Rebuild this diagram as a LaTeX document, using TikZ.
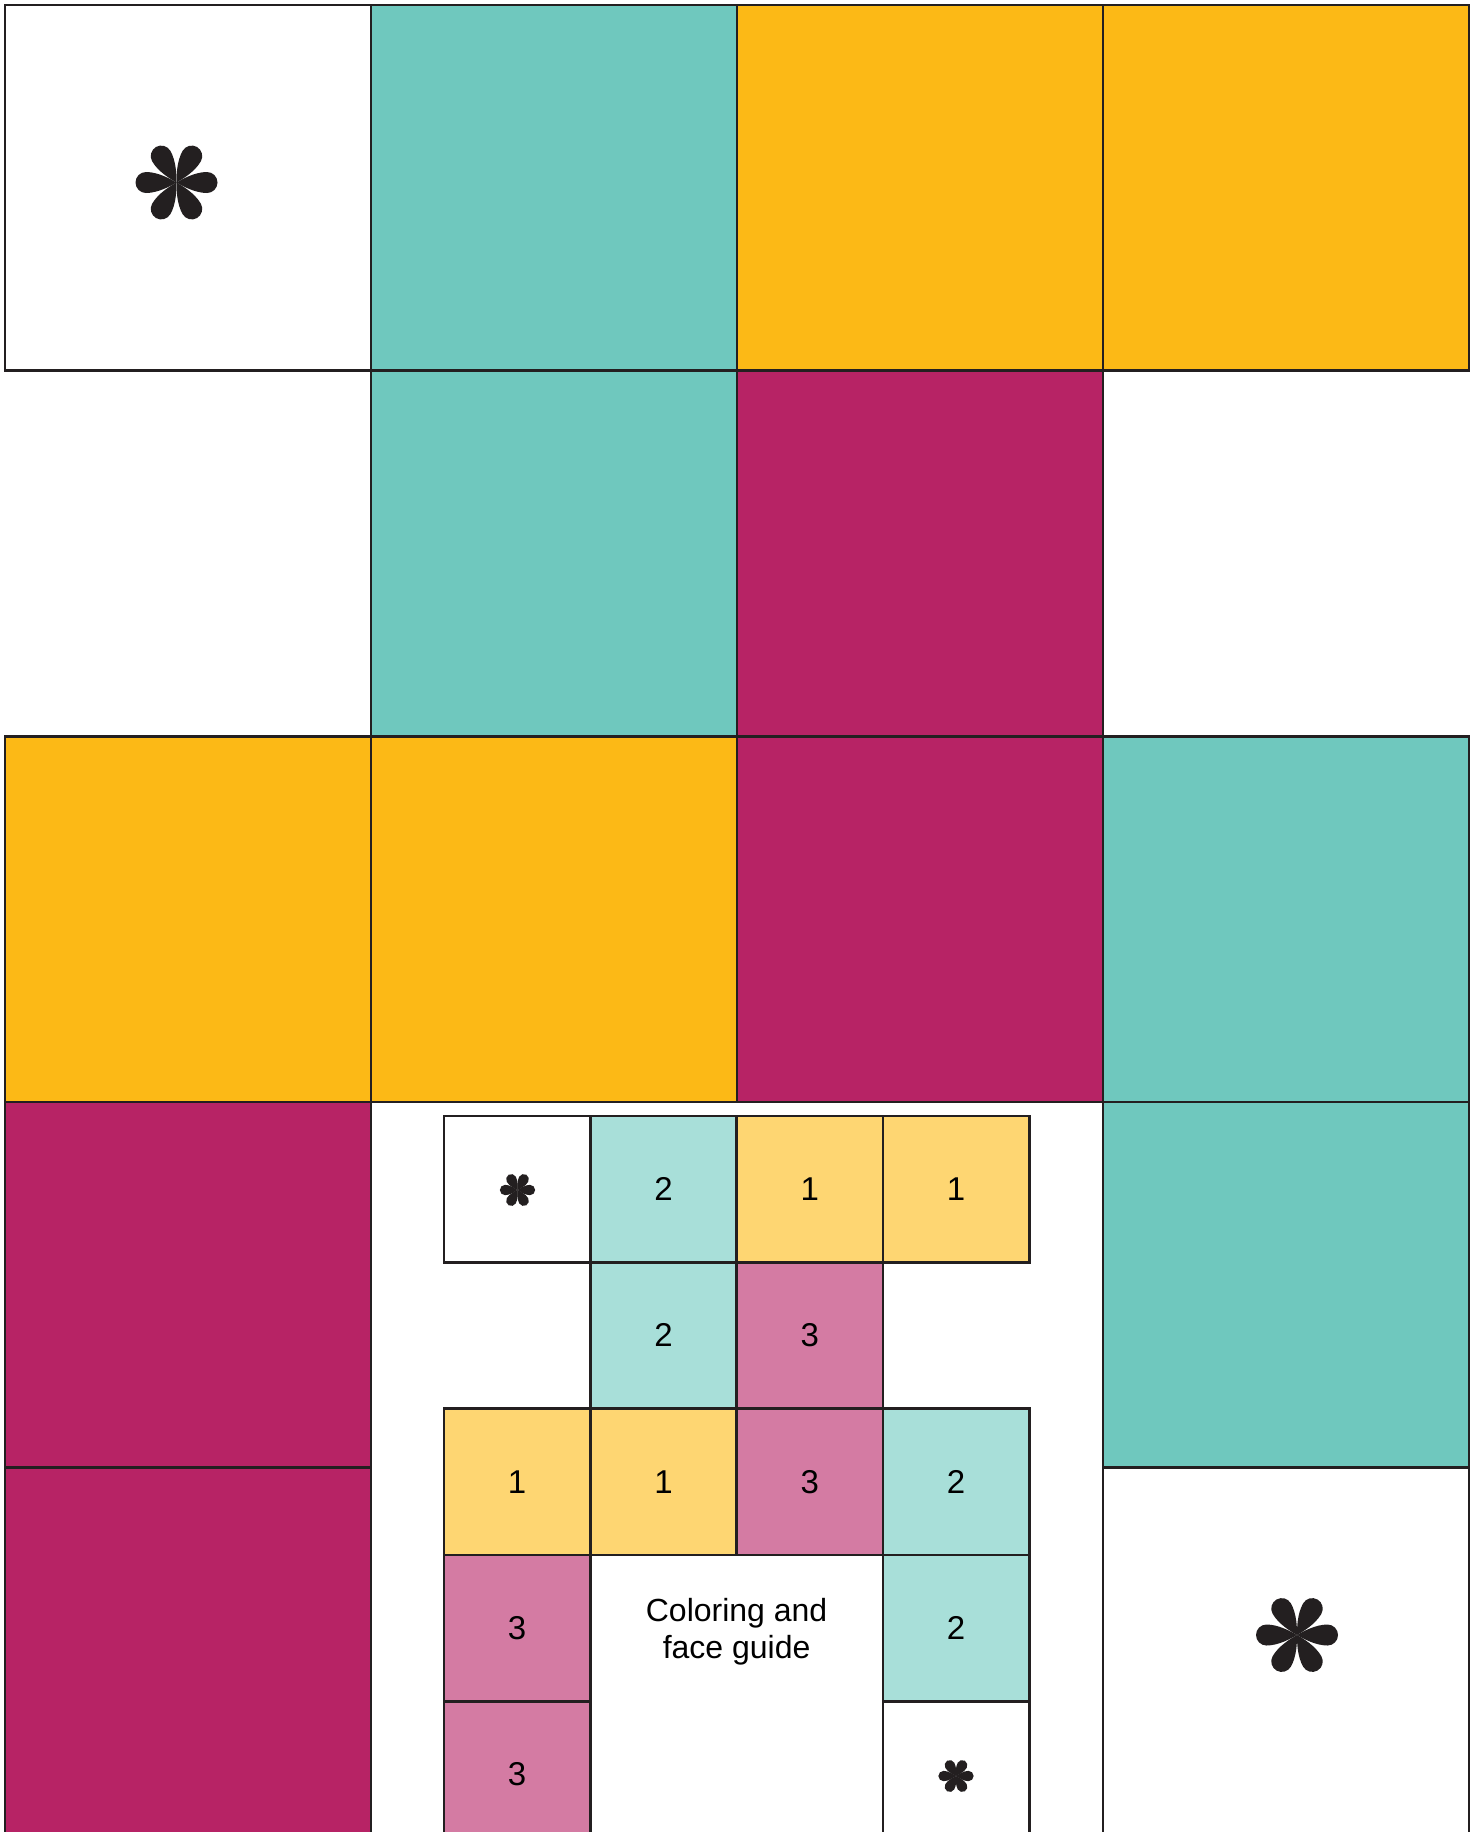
\documentclass[tikz,border=0pt]{standalone}
\usepackage{fontspec}
\setmainfont{Liberation Sans}
\definecolor{linec}{HTML}{231F20}
\definecolor{teal1}{HTML}{6FC8BE}
\definecolor{gold1}{HTML}{FCB916}
\definecolor{mag1}{HTML}{B72365}
\definecolor{teal2}{HTML}{A8DFD9}
\definecolor{gold2}{HTML}{FED672}
\definecolor{mag2}{HTML}{D47BA3}
\tikzset{
  flower/.pic={
    \pgfmathsetmacro{\lr}{#1}
    \pgfmathsetmacro{\lc}{41-\lr}
    \pgfmathsetmacro{\lk}{\lc-12}
    \foreach \a in {0,60,...,300}{
      \fill[linec,rotate=\a] (0pt,0pt) .. controls (6pt,-3.5pt) and (\lk pt,-\lr pt) .. (\lc pt,-\lr pt)
        arc[start angle=-90,end angle=90,radius=\lr pt]
        .. controls (\lk pt,\lr pt) and (6pt,3.5pt) .. (0pt,0pt) -- cycle;
    }
  }
}
\begin{document}
\begin{tikzpicture}[x=1pt,y=-1pt,
  bigcell/.style={draw=linec,line width=2.6pt,minimum width=366pt,minimum height=365.6pt,inner sep=0pt,outer sep=0pt,anchor=north west},
  smallcell/.style={draw=linec,line width=2.6pt,minimum width=146.3pt,minimum height=146.3pt,inner sep=0pt,outer sep=0pt,anchor=north west,font=\fontsize{33}{37}\selectfont},
  guidetext/.style={align=center,font=\fontsize{32}{37}\selectfont,inner sep=0pt}]
\useasboundingbox (0,0) rectangle (1478,1832);
\clip (0,0) rectangle (1478,1832);
\fill[white] (0,0) rectangle (1478,1832);
% big grid
\node[bigcell] (b11) at (5,5) {};
\node[bigcell,fill=teal1] (b12) at (371,5) {};
\node[bigcell,fill=gold1] (b13) at (737,5) {};
\node[bigcell,fill=gold1] (b14) at (1103,5) {};
\node[bigcell,fill=teal1] (b22) at (371,370.6) {};
\node[bigcell,fill=mag1] (b23) at (737,370.6) {};
\node[bigcell,fill=gold1] (b31) at (5,736.2) {};
\node[bigcell,fill=gold1] (b32) at (371,736.2) {};
\node[bigcell,fill=mag1] (b33) at (737,736.2) {};
\node[bigcell,fill=teal1] (b34) at (1103,736.2) {};
\node[bigcell,fill=mag1] (b41) at (5,1101.8) {};
\node[bigcell,fill=teal1] (b44) at (1103,1101.8) {};
\node[bigcell,fill=mag1] (b51) at (5,1467.4) {};
\node[bigcell] (b54) at (1103,1467.4) {};
\pic (starA) at (176.5,182.5) {flower=10.5};
\pic (starB) at (1297,1635) {flower=10.5};
% small guide grid
\node[smallcell] (s11) at (444,1116) {};
\node[smallcell,fill=teal2] (s12) at (590.3,1116) {2};
\node[smallcell,fill=gold2] (s13) at (736.6,1116) {1};
\node[smallcell,fill=gold2] (s14) at (882.9,1116) {1};
\node[smallcell,fill=teal2] (s22) at (590.3,1262.3) {2};
\node[smallcell,fill=mag2] (s23) at (736.6,1262.3) {3};
\node[smallcell,fill=gold2] (s31) at (444,1408.6) {1};
\node[smallcell,fill=gold2] (s32) at (590.3,1408.6) {1};
\node[smallcell,fill=mag2] (s33) at (736.6,1408.6) {3};
\node[smallcell,fill=teal2] (s34) at (882.9,1408.6) {2};
\node[smallcell,fill=mag2] (s41) at (444,1554.9) {3};
\node[smallcell,fill=teal2] (s44) at (882.9,1554.9) {2};
\node[smallcell,fill=mag2] (s51) at (444,1701.2) {3};
\node[smallcell] (s54) at (882.9,1701.2) {};
\pic[scale=0.43] (starC) at (517.5,1190) {flower=12};
\pic[scale=0.43] (starD) at (956,1776) {flower=12};
\node[guidetext] (guide) at (736.6,1632) {Coloring and\\face guide};
\end{tikzpicture}
\end{document}
